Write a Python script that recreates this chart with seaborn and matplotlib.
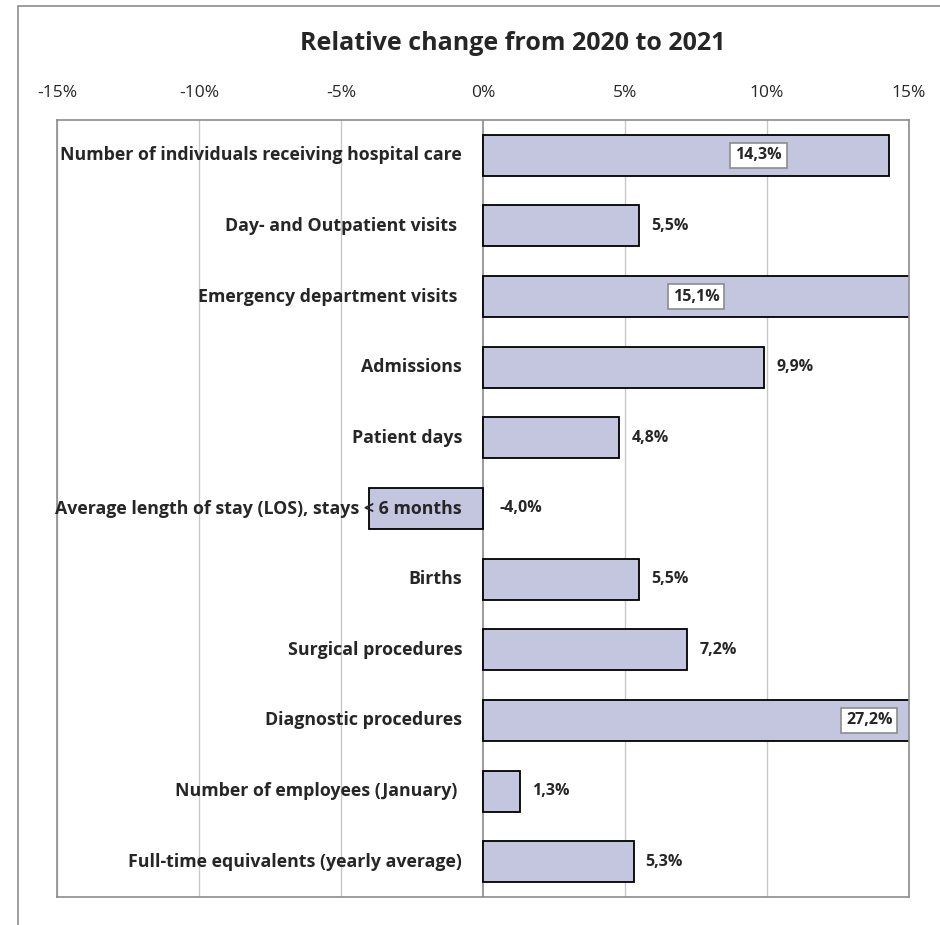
import numpy as np
import pandas as pd
import seaborn as sns
import matplotlib.pyplot as plt
import matplotlib.transforms as mtrans
from matplotlib.patches import Rectangle

## data
categories = ['Number of individuals receiving hospital care',
              'Day- and Outpatient visits ',
              'Emergency department visits ',
              'Admissions',
              'Patient days',
              'Average length of stay (LOS), stays < 6 months',
              'Births',
              'Surgical procedures',
              'Diagnostic procedures',
              'Number of employees (January) ',
              'Full-time equivalents (yearly average)']
changes = [14.3, 5.5, 15.1, 9.9, 4.8, -4.0, 5.5, 7.2, 27.2, 1.3, 5.3]
tick_values = [-15, -10, -5, 0, 5, 10, 15]
tick_labels = ['-15%', '-10%', '-5%', '0%', '5%', '10%', '15%']
title = 'Relative change from 2020 to 2021'

df = pd.DataFrame({'category': categories, 'change': changes})

## plot
sns.set_style('white')
plt.rcParams['font.family'] = ['Open Sans', 'DejaVu Sans']

fig = plt.figure(figsize=(9.4, 9.25), dpi=100)
ax = fig.add_axes([57/940, 1-897/925, (909-57)/940, (897-120)/925])

# outer chart border
fig.patches.append(Rectangle((18/940, -0.1), 1.2, 1-6/925+0.1, transform=fig.transFigure,
                             fill=False, edgecolor='#8c8c8c', linewidth=1.2))

sns.barplot(data=df, y='category', x='change', orient='h', color='#c4c6e0',
            saturation=1, width=0.58, edgecolor='black', linewidth=1.3, ax=ax, zorder=2)

ax.set_xlim(-15, 15)
ax.set_ylim(len(categories)-0.5, -0.5)
ax.set_xticks(tick_values)
ax.set_xticklabels(tick_labels, fontsize=12.5)
ax.xaxis.tick_top()
ax.tick_params(axis='x', length=0, pad=14)
ax.set_yticks([])
ax.set_xlabel('')
ax.set_ylabel('')
for v in tick_values:
    if v != 0:
        ax.axvline(v, color='#c8c8c8', linewidth=1, zorder=0)
ax.axvline(0, color='#808080', linewidth=1.1, zorder=1)
for s in ax.spines.values():
    s.set_color('#8c8c8c')
    s.set_linewidth(1.2)

# category labels next to the zero line
lab_tr = mtrans.offset_copy(ax.transData, fig=fig, x=-21, y=0, units='dots')
for i, c in enumerate(categories):
    ax.text(0, i, c, transform=lab_tr, ha='right', va='center', fontsize=12.8,
            fontweight='bold', zorder=5)

# value labels
out_tr = mtrans.offset_copy(ax.transData, fig=fig, x=12, y=0, units='dots')
inside_pos = {0: 9.7, 2: 7.5, 8: 13.6}
for i, v in enumerate(changes):
    txt = f'{v:.1f}%'.replace('.', ',')
    if i in inside_pos:
        ax.text(inside_pos[i], i, txt, ha='center', va='center', fontsize=11.5,
                fontweight='bold', zorder=6,
                bbox=dict(boxstyle='square,pad=0.3', facecolor='white', edgecolor='#8c8c8c', linewidth=1.2))
    else:
        x = max(v, 0)
        off = out_tr if v >= 0 else mtrans.offset_copy(ax.transData, fig=fig, x=17, y=0, units='dots')
        ax.text(x, i, txt, transform=off, ha='left', va='center', fontsize=11.5,
                fontweight='bold', zorder=5)

fig.text(513/940, 1-43/925, title, ha='center', va='center', fontsize=18, fontweight='bold')

fig.savefig('out.png', dpi=100)
